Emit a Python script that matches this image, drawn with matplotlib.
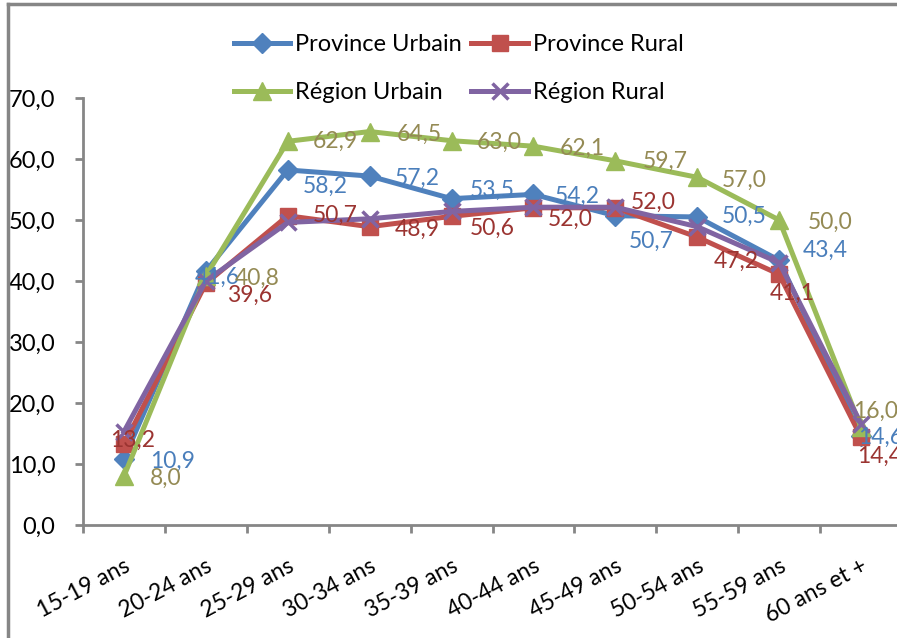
import matplotlib as mpl
import matplotlib.pyplot as plt
from matplotlib.lines import Line2D
from matplotlib.ticker import FuncFormatter, FixedLocator

mpl.rcParams["font.family"] = ["Lato", "DejaVu Sans"]

categories = ["15-19 ans", "20-24 ans", "25-29 ans", "30-34 ans", "35-39 ans",
              "40-44 ans", "45-49 ans", "50-54 ans", "55-59 ans", "60 ans et +"]
province_urbain = [10.9, 41.6, 58.2, 57.2, 53.5, 54.2, 50.7, 50.5, 43.4, 14.6]
province_rural = [13.2, 39.6, 50.7, 48.9, 50.6, 52.0, 52.0, 47.2, 41.1, 14.4]
region_urbain = [8.0, 40.8, 62.9, 64.5, 63.0, 62.1, 59.7, 57.0, 50.0, 16.0]
region_rural = [15.3, 40.0, 49.6, 50.2, 51.4, 52.1, 52.1, 48.9, 43.0, 16.6]

# label offsets in pixels (dx right, dy down) from each point, as placed in the original
pu_off = [(26, 3), (-11, 6), (15, 16), (25, 2), (18, -8), (21, 2), (13, 26), (25, -1), (24, -10), (-3, 1)]
pr_off = [(-14, -4), (21, 12), (25, 0), (25, 3), (18, 12), (14, 12), (15, -5), (16, 24), (-9, 19), (-4, 19)]
ru_off = [(26, 2), (29, 2), (25, 0), (27, 3), (25, 2), (26, 2), (27, 1), (25, 3), (29, 2), (-8, -16)]

series = [
    ("Province Urbain", province_urbain, "#4F81BD", "D", 10, "#4A7EBB", pu_off),
    ("Province Rural", province_rural, "#C0504D", "s", 12, "#9B3431", pr_off),
    ("Région Urbain", region_urbain, "#9BBB59", "^", 13, "#948A54", ru_off),
    ("Région Rural", region_rural, "#8064A2", "x", 11, None, None),
]

W, H = 897, 638
fig = plt.figure(figsize=(W / 100, H / 100), dpi=100)
ax = fig.add_axes([83 / W, 1 - 525 / H, (902 - 83) / W, (525 - 98) / H])

x = list(range(len(categories)))
handles = {}
for name, vals, col, mk, ms, lcol, offs in series:
    mew = 2.5 if mk == "x" else 1
    ln, = ax.plot(x, vals, color=col, lw=3.6, marker=mk, ms=ms, mew=mew,
                  mec=col, mfc=col, solid_joinstyle="round", clip_on=False)
    handles[name] = ln
    if offs is None:
        continue
    for xi, v, (dx, dy) in zip(x, vals, offs):
        ax.annotate(f"{v:.1f}".replace(".", ","), (xi, v), xytext=(dx, -dy),
                    textcoords="offset pixels", ha="left", va="center",
                    fontsize=16.5, color=lcol, annotation_clip=False)

ax.set_xlim(-0.5, 9.5)
ax.set_ylim(0, 70)
ax.set_yticks(range(0, 71, 10))
ax.yaxis.set_major_formatter(FuncFormatter(lambda v, p: f"{v:.1f}".replace(".", ",")))
ax.set_xticks(x)
ax.set_xticklabels(categories, rotation=28, ha="right", va="top", rotation_mode="anchor")
ax.xaxis.set_minor_locator(FixedLocator([i - 0.5 for i in range(11)]))

gray = "#868686"
for s in ["top", "right"]:
    ax.spines[s].set_visible(False)
for s in ["left", "bottom"]:
    ax.spines[s].set_color(gray)
    ax.spines[s].set_linewidth(2)
ax.tick_params(axis="y", direction="out", length=6, width=2, color=gray,
               labelsize=17, pad=14)
ax.tick_params(axis="x", which="major", length=0, labelsize=16.5, pad=22)
ax.tick_params(axis="x", which="minor", direction="out", length=6, width=2, color=gray)

order = ["Province Urbain", "Région Urbain", "Province Rural", "Région Rural"]
leg = fig.legend([handles[k] for k in order], order, ncol=2, loc="upper left",
                 bbox_to_anchor=(222 / W, 1 - 22 / H), frameon=False, fontsize=17,
                 handlelength=2.4, handletextpad=0.2, columnspacing=0.4,
                 labelspacing=1.17, borderpad=0)

# outer frame of the original picture
fig.add_artist(Line2D([8 / W, 8 / W], [0, 1 - 4 / H], color=gray, lw=2.5))
fig.add_artist(Line2D([8 / W, 1], [1 - 4 / H, 1 - 4 / H], color=gray, lw=2.5))

fig.savefig("out.png", dpi=100)
